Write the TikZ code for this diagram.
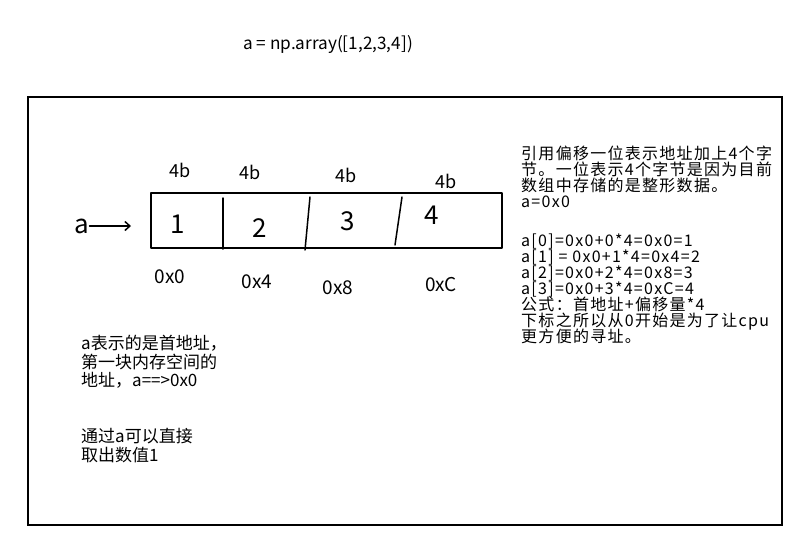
\documentclass[tikz,border=0pt]{standalone}
\usepackage{fontspec}
\setmainfont{Noto Sans CJK SC}
\newfontfamily\notefont[LetterSpace=8]{Noto Sans CJK SC}
\usetikzlibrary{arrows.meta,positioning}
\newcommand\tightlead{\lineskiplimit=-50pt\relax}
\tikzset{
  pen/.style={line width=1.5pt, line cap=round, line join=round},
  frame/.style={line width=1.4pt},
  note/.style={align=left, anchor=north west, inner sep=0pt},
  hand/.style={inner sep=0pt, font=\fontsize{18}{18}\selectfont},
  cellnum/.style={inner sep=0pt, font=\fontsize{26}{26}\selectfont},
  addr/.style={inner sep=0pt, font=\fontsize{19}{19}\selectfont},
  ptr/.style={pen, -{Straight Barb[length=5pt,width=9pt]}}
}
\begin{document}
\begin{tikzpicture}[x=1pt, y=-1pt]
  \useasboundingbox (0,0) rectangle (793,541);
  \draw[frame] (28,97) rectangle (782,525);

  \node[inner sep=0pt, font=\fontsize{17.2}{17.2}\selectfont] (code) at (328,44) {a = np.array([1,2,3,4])};

  % the array in memory
  \node[draw, pen, minimum width=351pt, minimum height=55pt, inner sep=0pt] (arr) at (326.5,220.5) {};
  \draw[pen] (223,198) -- (223,249);
  \draw[pen] (310,197) -- (305,250);
  \draw[pen] (402,197) -- (395,245);

  \node[cellnum] (v1) at (178,224) {1};
  \node[cellnum] (v2) at (260,228) {2};
  \node[cellnum] (v3) at (348,221) {3};
  \node[cellnum] (v4) at (432,215) {4};

  \node[hand] (s1) at (180,170) {4b};
  \node[hand] (s2) at (250,172) {4b};
  \node[hand] (s3) at (346,175) {4b};
  \node[hand] (s4) at (446,181) {4b};

  \node[addr] (ad1) at (170,277) {0x0};
  \node[addr] (ad2) at (257,282) {0x4};
  \node[addr] (ad3) at (338,288) {0x8};
  \node[addr] (ad4) at (441,285) {0xC};

  \node[cellnum] (a) at (82,226) {a};
  \coordinate (tip) at (131,226);
  \draw[ptr] (a.east) -- (tip);

  % explanations
  \node[note, font=\notefont\fontsize{16}{16}\selectfont\tightlead] (rule) at (521,146) {%
    引用偏移一位表示地址加上4个字\\
    节。一位表示4个字节是因为目前\\
    数组中存储的是整形数据。\\
    a=0x0\\[23pt]
    a[0]=0x0+0*4=0x0=1\\
    a[1] = 0x0+1*4=0x4=2\\
    a[2]=0x0+2*4=0x8=3\\
    a[3]=0x0+3*4=0xC=4\\
    公式：首地址+偏移量*4\\
    下标之所以从0开始是为了让cpu\\
    更方便的寻址。};

  \node[note, font=\fontsize{17}{18.5}\selectfont] (head) at (81,335) {%
    a表示的是首地址，\\
    第一块内存空间的\\
    地址，a==>0x0};

  \node[note, font=\fontsize{17}{18.5}\selectfont] (first) at (81,428) {%
    通过a可以直接\\
    取出数值1};
\end{tikzpicture}
\end{document}
